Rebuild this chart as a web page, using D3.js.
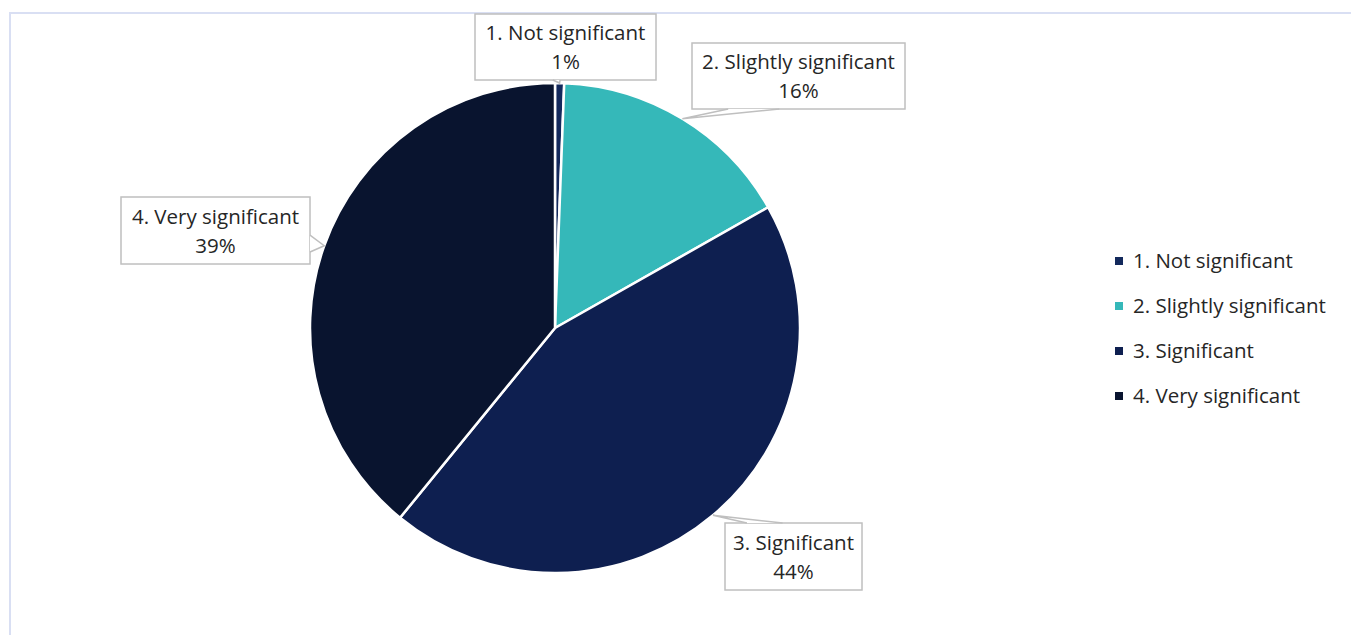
<!DOCTYPE html>
<html>
<head>
<meta charset="utf-8">
<script src="https://cdn.jsdelivr.net/npm/d3@7"></script>
<style>
  body { margin: 0; background: #fff; }
  text { font-family: "Open Sans", Lato, sans-serif; fill: #262626; font-variant-ligatures: none; }
</style>
</head>
<body>
<svg id="chart" width="1351" height="635"></svg>
<script>
// data
const categories = ["1. Not significant", "2. Slightly significant", "3. Significant", "4. Very significant"];
const shares = [0.6, 16.2, 44.1, 39.1];
const colors = ["#13295c", "#35b8b9", "#0e1f50", "#09142f"];

// label callout layout: box centre, box size, side the leader leaves from, leader base as fractions of that side
const calloutCentre = [[565.5, 47], [798.5, 76], [793.5, 556.5], [215.5, 230.5]];
const calloutSize = [[181, 66], [213, 66], [137, 67], [189, 67]];
const calloutSide = ["bottom", "bottom", "top", "right"];
const calloutBase = [[0.43, 0.47], [0.17, 0.41], [0.16, 0.42], [0.57, 0.82]];

const svg = d3.select("#chart"),
    cx = 555, cy = 328, radius = 245;

// frame (only top and left edge visible)
svg.append("path")
    .attr("d", "M10,635V13H1351")
    .attr("fill", "none")
    .attr("stroke", "#d9dff3")
    .attr("stroke-width", 2);

const pie = d3.pie().sort(null).value(d => d);
const arcs = pie(shares);
const arc = d3.arc().innerRadius(0).outerRadius(radius);

const g = svg.append("g").attr("transform", "translate(" + cx + "," + cy + ")");

g.selectAll("path.slice")
  .data(arcs)
  .enter().append("path")
    .attr("class", "slice")
    .attr("d", arc)
    .attr("fill", (d, i) => colors[i])
    .attr("stroke", "#fff")
    .attr("stroke-width", 2.5)
    .attr("stroke-linejoin", "round");

// callouts
const fontSize = 20.5;
const labels = svg.append("g");

arcs.forEach(function(d, i) {
  const mid = (d.startAngle + d.endAngle) / 2;
  const tip = [cx + radius * Math.sin(mid), cy - radius * Math.cos(mid)];
  const c = calloutCentre[i],
      w = calloutSize[i][0], h = calloutSize[i][1],
      x0 = c[0] - w / 2, y0 = c[1] - h / 2;

  const lab = labels.append("g");
  lab.append("rect")
      .attr("x", x0).attr("y", y0)
      .attr("width", w).attr("height", h)
      .attr("fill", "#fff")
      .attr("stroke", "#bfbfbf")
      .attr("stroke-width", 1.5);

  lab.append("text")
      .attr("x", c[0]).attr("y", c[1] - 7)
      .attr("text-anchor", "middle")
      .style("font-size", fontSize + "px")
      .text(categories[i]);
  lab.append("text")
      .attr("x", c[0]).attr("y", c[1] + 22)
      .attr("text-anchor", "middle")
      .style("font-size", fontSize + "px")
      .text(Math.round(d.data) + "%");

  const b = calloutBase[i];
  let p1, p2;
  if (calloutSide[i] === "bottom") {
    p1 = [x0 + w * b[0], y0 + h]; p2 = [x0 + w * b[1], y0 + h];
  } else if (calloutSide[i] === "top") {
    p1 = [x0 + w * b[0], y0]; p2 = [x0 + w * b[1], y0];
  } else {
    p1 = [x0 + w, y0 + h * b[0]]; p2 = [x0 + w, y0 + h * b[1]];
  }
  lab.append("path")
      .attr("d", d3.line()([p1, tip, p2]))
      .attr("fill", "#fff")
      .attr("stroke", "#bfbfbf")
      .attr("stroke-width", 1.5);
});

// legend
const legend = svg.append("g").attr("transform", "translate(1115,261)");
const item = legend.selectAll("g")
  .data(categories)
  .enter().append("g")
    .attr("transform", (d, i) => "translate(0," + i * 45 + ")");
item.append("rect")
    .attr("x", 0).attr("y", -4)
    .attr("width", 8).attr("height", 8)
    .attr("fill", (d, i) => colors[i]);
item.append("text")
    .attr("x", 18).attr("y", 7)
    .style("font-size", fontSize + "px")
    .text(d => d);
</script>
</body>
</html>
